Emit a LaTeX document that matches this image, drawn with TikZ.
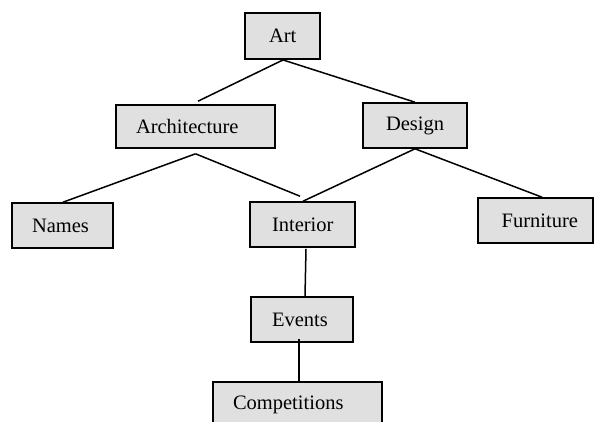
\documentclass[tikz,border=0pt]{standalone}
\usepackage{fontspec}
\setmainfont{Liberation Serif}
\begin{document}
\begin{tikzpicture}[x=1pt,y=-1pt,
  box/.style={draw=black, line width=1.6pt, fill=gray!24, inner ysep=0pt,
    font=\fontsize{20.5}{24}\selectfont, align=left},
  link/.style={draw=black, line width=1.5pt}]
\clip (0,0) rectangle (594,422);
\fill[white] (0,0) rectangle (594,422);
\node[box, inner xsep=24pt, text width=27pt, minimum height=46pt, line width=1.9pt] (art) at (282.5,36) {Art};
\node[box, inner xsep=20pt, text width=119pt, minimum height=43pt] (arch) at (195.5,126.5) {Architecture};
\node[box, inner xsep=23pt, text width=58pt, minimum height=45pt] (design) at (415,125.5) {Design};
\node[box, inner xsep=20pt, text width=61pt, minimum height=45pt] (names) at (62.5,225.5) {Names};
\node[box, inner xsep=22pt, text width=61pt, minimum height=45pt] (interior) at (302.5,224.5) {Interior};
\node[box, inner xsep=15pt, text width=85pt, minimum height=45pt, align=right] (furniture) at (535.5,220.5) {Furniture};
\node[box, inner xsep=21pt, text width=60pt, minimum height=45pt] (events) at (302,319.5) {Events};
\node[box, inner xsep=20pt, text width=129pt, minimum height=45pt] (comp) at (297.5,404.5) {Competitions};
\draw[link] ([shift={(0.5,0)}]art.south) -- ([shift={(2.5,-3)}]arch.north);
\draw[link] ([shift={(0.5,0)}]art.south) -- (design.north);
\draw[link] ([shift={(0,5)}]arch.south) -- ([shift={(0.5,0)}]names.north);
\draw[link] ([shift={(0,5)}]arch.south) -- ([shift={(-2.5,-5)}]interior.north);
\draw[link] (design.south) -- ([shift={(0.5,0)}]interior.north);
\draw[link] (design.south) -- ([shift={(6.5,0)}]furniture.north);
\draw[link] ([shift={(3.5,1)}]interior.south) -- ([shift={(3,0)}]events.north);
\draw[link] ([shift={(-3,-4)}]events.south) -- ([shift={(1.5,0)}]comp.north);
\end{tikzpicture}
\end{document}
